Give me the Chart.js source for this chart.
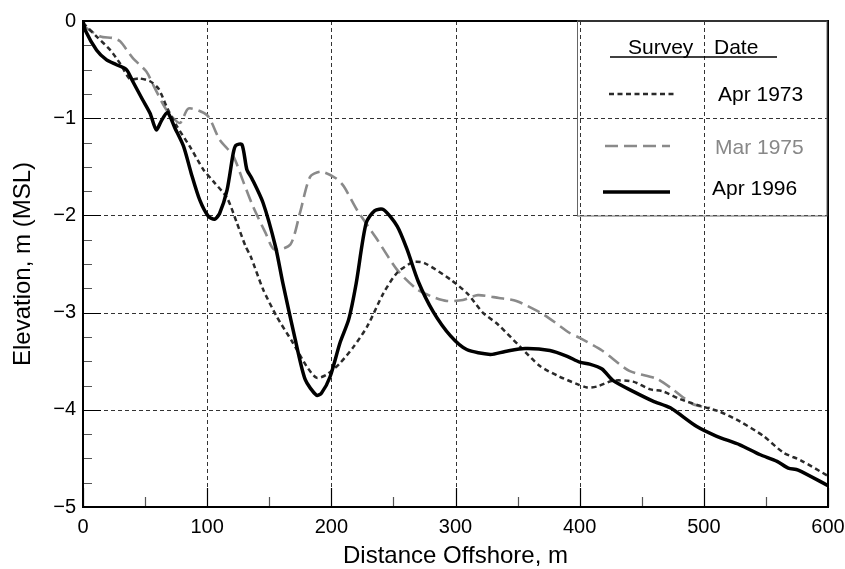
<!DOCTYPE html>
<html>
<head>
<meta charset="utf-8">
<script src="https://cdn.jsdelivr.net/npm/chart.js@4.4.1/dist/chart.umd.min.js"></script>
<style>
  html, body { margin: 0; padding: 0; background: #fff; }
  canvas { display: block; }
</style>
</head>
<body>
<canvas id="myChart" width="845" height="569"></canvas>
<script>
// profile readings, distance offshore (m) vs elevation (m MSL)
const apr1973X = [0, 11, 22, 30, 38, 45, 54, 61, 68, 75, 86, 97, 105, 116, 124, 131, 135, 145, 156, 169, 180, 188, 196, 207, 218, 229, 242, 253, 266, 275, 296, 310, 322, 334, 352, 368, 384, 397, 406, 414, 427, 443, 457, 467, 481, 497, 513, 529, 548, 564, 578, 600];
const apr1973Y = [-0.02, -0.16, -0.30, -0.44, -0.60, -0.59, -0.62, -0.70, -0.90, -1.07, -1.29, -1.53, -1.65, -1.82, -2.08, -2.32, -2.42, -2.76, -3.04, -3.31, -3.55, -3.67, -3.64, -3.52, -3.35, -3.14, -2.80, -2.59, -2.48, -2.49, -2.66, -2.81, -3.00, -3.12, -3.35, -3.55, -3.66, -3.73, -3.77, -3.76, -3.70, -3.71, -3.79, -3.81, -3.89, -3.96, -4.02, -4.12, -4.27, -4.44, -4.52, -4.68];

const mar1975X = [0, 14, 24, 30, 40, 51, 57, 67, 78, 85, 100, 110, 121, 129, 137, 147, 154, 167, 175, 183, 192, 204, 210, 221, 236, 253, 269, 280, 293, 306, 318, 335, 349, 371, 392, 400, 418, 440, 462, 475, 491, 505];
const mar1975Y = [-0.05, -0.16, -0.175, -0.21, -0.38, -0.52, -0.67, -0.91, -1.05, -0.90, -0.97, -1.22, -1.39, -1.65, -1.91, -2.18, -2.35, -2.30, -1.96, -1.60, -1.55, -1.62, -1.70, -1.95, -2.23, -2.56, -2.76, -2.83, -2.88, -2.87, -2.82, -2.85, -2.88, -3.02, -3.21, -3.26, -3.39, -3.60, -3.68, -3.79, -3.94, -3.98];

const apr1996X = [0, 2, 11, 19, 27, 35, 40, 48, 54, 59, 63, 68, 74, 81, 87, 94, 101, 106, 110, 116, 121, 123, 128, 132, 136, 145, 155, 161, 171, 179, 188, 192, 199, 207, 214, 220, 228, 235, 242, 253, 261, 270, 282, 296, 309, 328, 340, 356, 376, 390, 400, 408, 418, 427, 443, 459, 473, 494, 510, 529, 545, 559, 568, 576, 600];
const apr1996Y = [0, -0.10, -0.30, -0.40, -0.45, -0.50, -0.62, -0.81, -0.95, -1.12, -1.03, -0.94, -1.10, -1.29, -1.56, -1.84, -2.01, -2.04, -1.98, -1.74, -1.36, -1.28, -1.27, -1.53, -1.62, -1.87, -2.32, -2.70, -3.28, -3.69, -3.85, -3.83, -3.66, -3.31, -3.07, -2.70, -2.08, -1.95, -1.94, -2.11, -2.35, -2.68, -2.99, -3.24, -3.38, -3.43, -3.40, -3.37, -3.39, -3.45, -3.51, -3.53, -3.58, -3.70, -3.81, -3.91, -3.98, -4.17, -4.27, -4.36, -4.46, -4.53, -4.60, -4.62, -4.78];

const seriesNames = ['Apr 1973', 'Mar 1975', 'Apr 1996'];
const xTicks = [0, 100, 200, 300, 400, 500, 600];
const yTicks = [0, -1, -2, -3, -4, -5];

const FONT = '"Liberation Sans", Arial, Helvetica, sans-serif';
const toPoints = (xs, ys) => xs.map((x, i) => ({ x: x, y: ys[i] }));

// grid, inner ticks, frame, titles and the boxed legend
const frame = {
  id: 'frame',
  beforeDatasetsDraw(chart) {
    const { ctx, chartArea: a, scales: { x, y } } = chart;
    ctx.save();
    ctx.strokeStyle = '#333';
    ctx.lineWidth = 1;
    ctx.setLineDash([4, 3]);
    ctx.beginPath();
    xTicks.forEach(v => {
      const px = Math.round(x.getPixelForValue(v)) + 0.5;
      ctx.moveTo(px, a.top); ctx.lineTo(px, a.bottom);
    });
    yTicks.forEach(v => {
      const py = Math.round(y.getPixelForValue(v)) + 0.5;
      ctx.moveTo(a.left, py); ctx.lineTo(a.right, py);
    });
    ctx.stroke();
    ctx.restore();
  },
  afterDatasetsDraw(chart) {
    const { ctx, chartArea: a, scales: { x, y } } = chart;
    ctx.save();
    // minor ticks
    ctx.strokeStyle = '#555';
    ctx.lineWidth = 1.2;
    ctx.beginPath();
    for (let v = 50; v < 600; v += 100) {
      const px = Math.round(x.getPixelForValue(v)) + 0.5;
      ctx.moveTo(px, a.bottom); ctx.lineTo(px, a.bottom - 10);
    }
    for (let v = -4.75; v < 0; v += 0.25) {
      if (Math.abs(v - Math.round(v)) < 0.01) continue;
      const py = Math.round(y.getPixelForValue(v)) + 0.5;
      ctx.moveTo(a.left, py); ctx.lineTo(a.left + 9, py);
    }
    ctx.stroke();
    // major ticks
    ctx.strokeStyle = '#000';
    ctx.beginPath();
    xTicks.forEach(v => {
      const px = Math.round(x.getPixelForValue(v)) + 0.5;
      ctx.moveTo(px, a.bottom); ctx.lineTo(px, a.bottom - 19);
    });
    yTicks.forEach(v => {
      const py = Math.round(y.getPixelForValue(v)) + 0.5;
      ctx.moveTo(a.left, py); ctx.lineTo(a.left + 18, py);
    });
    ctx.stroke();
    // frame
    ctx.lineWidth = 2;
    ctx.strokeRect(a.left, a.top, a.right - a.left, a.bottom - a.top);

    // axis titles
    ctx.fillStyle = '#000';
    ctx.font = '24px ' + FONT;
    ctx.textAlign = 'center';
    ctx.textBaseline = 'alphabetic';
    ctx.fillText('Distance Offshore, m', (a.left + a.right) / 2, 563);
    ctx.save();
    ctx.translate(30, (a.top + a.bottom) / 2);
    ctx.rotate(-Math.PI / 2);
    ctx.fillText('Elevation, m (MSL)', 0, 0);
    ctx.restore();

    // legend box
    ctx.strokeStyle = '#666';
    ctx.lineWidth = 1;
    ctx.strokeRect(577.5, a.top, a.right - 578.5, 216 - a.top);
    ctx.font = '21px ' + FONT;
    ctx.textAlign = 'left';
    ctx.fillText('Survey', 628, 54);
    ctx.fillText('Date', 714, 54);
    ctx.lineWidth = 1.5;
    ctx.strokeStyle = '#000';
    ctx.beginPath(); ctx.moveTo(610, 57); ctx.lineTo(777, 57); ctx.stroke();

    const rows = [
      { ly: 94, ty: 101, tx: 718, x0: 609, x1: 676 },
      { ly: 146, ty: 154, tx: 715, x0: 605, x1: 670 },
      { ly: 192, ty: 195, tx: 712, x0: 603, x1: 670 }
    ];
    const order = [1, 2, 0];
    rows.forEach((r, i) => {
      const ds = chart.data.datasets[order[i]];
      ctx.save();
      ctx.strokeStyle = ds.borderColor;
      ctx.lineWidth = ds.borderWidth;
      ctx.setLineDash(ds.borderDash || []);
      ctx.beginPath(); ctx.moveTo(r.x0, r.ly); ctx.lineTo(r.x1, r.ly); ctx.stroke();
      ctx.restore();
      ctx.fillStyle = i === 1 ? '#888' : '#000';
      ctx.fillText(seriesNames[i], r.tx, r.ty);
    });
    ctx.restore();
  }
};

const ctx = document.getElementById('myChart');
new Chart(ctx, {
  type: 'line',
  data: {
    datasets: [
      {
        label: seriesNames[2],
        data: toPoints(apr1996X, apr1996Y),
        borderColor: '#000',
        borderWidth: 3.5,
        order: 0
      },
      {
        label: seriesNames[0],
        data: toPoints(apr1973X, apr1973Y),
        borderColor: '#2a2a2a',
        borderWidth: 2.5,
        borderDash: [5, 3.5],
        order: 1
      },
      {
        label: seriesNames[1],
        data: toPoints(mar1975X, mar1975Y),
        borderColor: '#8a8a8a',
        borderWidth: 2.6,
        borderDash: [13, 6],
        order: 2
      }
    ]
  },
  options: {
    responsive: false,
    animation: false,
    devicePixelRatio: 1,
    layout: { padding: { top: 21, right: 17, left: 0, bottom: 0 } },
    elements: {
      point: { radius: 0 },
      line: { tension: 0.25, borderCapStyle: 'butt', fill: false }
    },
    plugins: { legend: { display: false }, tooltip: { enabled: false } },
    scales: {
      x: {
        type: 'linear',
        min: 0,
        max: 600,
        afterBuildTicks: s => { s.ticks = xTicks.map(v => ({ value: v })); },
        afterFit: s => { s.height = 62; s.paddingLeft = 0; s.paddingRight = 0; },
        ticks: { padding: 8, color: '#000', maxRotation: 0, font: { family: FONT, size: 20 } },
        grid: { display: false, drawTicks: false },
        border: { display: false }
      },
      y: {
        type: 'linear',
        min: -5,
        max: 0,
        afterBuildTicks: s => { s.ticks = yTicks.map(v => ({ value: v })); },
        afterFit: s => { s.width = 83; s.paddingTop = 0; s.paddingBottom = 0; },
        ticks: {
          padding: 7,
          color: '#000',
          font: { family: FONT, size: 20 },
          callback: v => String(v).replace('-', '\u2212')
        },
        grid: { display: false, drawTicks: false },
        border: { display: false }
      }
    }
  },
  plugins: [frame]
});
</script>
</body>
</html>
